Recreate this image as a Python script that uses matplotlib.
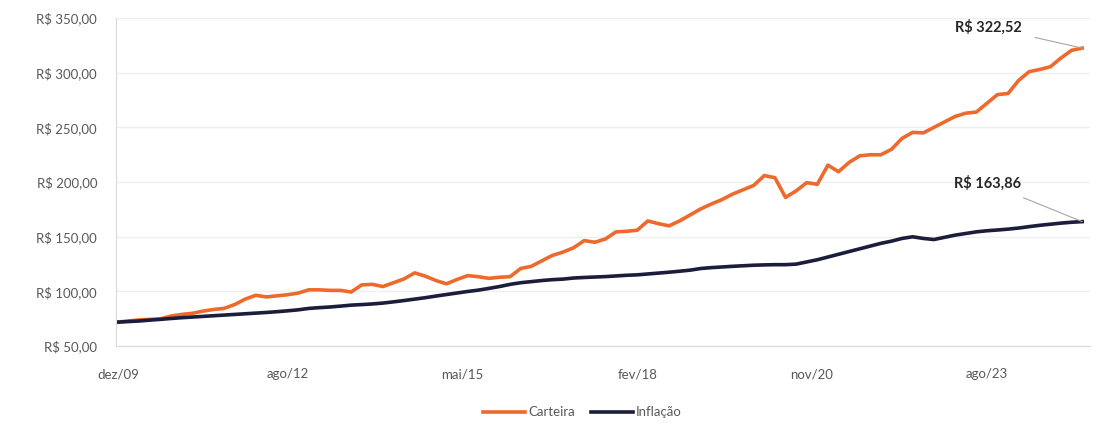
import matplotlib
matplotlib.use("Agg")
import matplotlib.pyplot as plt
import numpy as np

plt.rcParams['font.family'] = ['Lato', 'DejaVu Sans']

# bimonthly readings, dez/09 onwards (index = months since dez/09)
month_idx = list(range(0, 184, 2))

carteira = [
    72, 73, 74, 74.5, 75, 77.5, 79, 80, 82, 83.5,
    84.5, 88, 93, 96.5, 95, 96, 97, 98.5, 101.5, 101.5,
    101, 101, 99.5, 106, 106.5, 104.5, 108, 111.5, 117, 114,
    110, 107, 111, 114.5, 113.5, 112, 113, 113.5, 121, 123,
    128, 133, 136, 140, 146.5, 145, 148, 154.5, 155, 156,
    164.5, 162, 160, 164.5, 170, 175.5, 180, 184, 189, 193,
    197, 206, 204, 186, 192, 199.5, 198, 215.5, 209.5, 218,
    224, 225, 225, 230, 240, 245.5, 245, 250, 255, 260,
    263, 264, 272, 280, 281, 293, 301, 303, 305.5, 313.5,
    320.5, 322.52,
]

inflacao = [
    72, 72.5, 73, 73.8, 74.5, 75.3, 76, 76.6, 77.2, 77.8,
    78.4, 79, 79.6, 80.2, 80.8, 81.5, 82.3, 83.2, 84.5, 85.2,
    85.8, 86.6, 87.5, 88, 88.6, 89.4, 90.5, 91.7, 93, 94.3,
    95.8, 97.2, 98.6, 100, 101.2, 102.8, 104.5, 106.5, 108, 109,
    110, 110.8, 111.3, 112.3, 112.8, 113.2, 113.6, 114.2, 114.8, 115.2,
    116, 116.8, 117.6, 118.5, 119.5, 121, 121.8, 122.4, 123, 123.5,
    124, 124.3, 124.5, 124.5, 125, 127, 129, 131.5, 134, 136.5,
    139, 141.5, 144, 146, 148.5, 150, 148.5, 147.5, 149.5, 151.5,
    153, 154.5, 155.5, 156.2, 157, 158, 159.3, 160.5, 161.5, 162.5,
    163.3, 163.86,
]

tick_pos = [0, 32, 65, 98, 131, 164]
tick_labels = ['dez/09', 'ago/12', 'mai/15', 'fev/18', 'nov/20', 'ago/23']
y_ticks = [50, 100, 150, 200, 250, 300, 350]

orange = '#EE6A2C'
navy = '#1C1C3C'
gray = '#595959'

fig = plt.figure(figsize=(11.09, 4.30), dpi=100)
ax = fig.add_axes([0.105, 0.195, 0.878, 0.763])

ax.plot(month_idx, carteira, color=orange, lw=2.6, label='Carteira')
ax.plot(month_idx, inflacao, color=navy, lw=2.6, label='Inflação')

ax.set_ylim(50, 350)
ax.set_xlim(-0.3, 183.5)
ax.set_yticks(y_ticks)
ax.set_yticklabels(['R$ %d,00' % v for v in y_ticks])
ax.set_xticks(tick_pos)
ax.set_xticklabels(tick_labels)
ax.tick_params(axis='both', length=0, labelsize=9.5, colors=gray)
ax.tick_params(axis='x', pad=16)
ax.tick_params(axis='y', pad=14)

ax.grid(axis='y', color='#EFEFEF', lw=1)
ax.set_axisbelow(True)
for s in ['top', 'right']:
    ax.spines[s].set_visible(False)
ax.spines['left'].set_color('#D9D9D9')
ax.spines['bottom'].set_color('#D9D9D9')

# end-point labels
last_x = month_idx[-1]
ax.annotate('R$ 322,52', xy=(last_x, carteira[-1]), xytext=(170.5, 342),
            ha='right', va='center', fontsize=10.5, fontweight='bold', color='#262626',
            arrowprops=dict(arrowstyle='-', color='#A6A6A6', lw=0.8,
                            shrinkA=8, shrinkB=0))
ax.annotate('R$ 163,86', xy=(last_x, inflacao[-1]), xytext=(170.5, 199),
            ha='right', va='center', fontsize=10.5, fontweight='bold', color='#262626',
            arrowprops=dict(arrowstyle='-', color='#A6A6A6', lw=0.8,
                            shrinkA=8, shrinkB=0))

fig.legend(loc='lower center', bbox_to_anchor=(0.525, 0.0), ncol=2, frameon=False,
           fontsize=9.5, labelcolor=gray, handlelength=3.2, handletextpad=0.2,
           columnspacing=1.2)

fig.savefig('out.png', dpi=100)
